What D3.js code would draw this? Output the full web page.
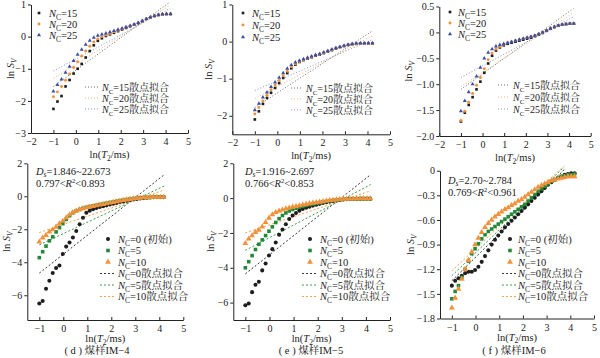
<!DOCTYPE html>
<html><head><meta charset="utf-8">
<script src="https://cdn.jsdelivr.net/npm/d3@7"></script>
<style>
body{margin:0;background:#fff}
text{font-family:"Liberation Serif","Noto Serif CJK SC","Noto Sans CJK SC",serif;fill:#222}
</style>
</head><body>
<svg id="c" width="600" height="358"></svg>
<script>
// ---------- DATA ----------
const xTop = [-1.00,-0.82,-0.64,-0.46,-0.28,-0.10,0.08,0.26,0.44,0.62,0.80,0.98,1.16,1.34,1.52,1.70,1.88,2.06,2.24,2.42,2.60,2.78,2.96,3.14,3.32,3.50,3.68,3.86,4.04,4.22];
const xBot = [-1.00,-0.86,-0.72,-0.58,-0.44,-0.30,-0.16,-0.02,0.12,0.26,0.40,0.54,0.68,0.82,0.96,1.10,1.24,1.38,1.52,1.66,1.80,1.94,2.08,2.22,2.36,2.50,2.64,2.78,2.92,3.06,3.20,3.34,3.48,3.62,3.76,3.90,4.04,4.18];

const topNames = ["15","20","25"];
const botNames = ["0","5","10"];

// (a) sample
const a15 = [-2.25,-2.02,-1.85,-1.55,-1.35,-1.15,-1.00,-0.85,-0.65,-0.45,-0.27,-0.13,-0.05,0.02,0.07,0.12,0.17,0.22,0.27,0.32,0.37,0.42,0.48,0.55,0.60,0.64,0.67,0.69,0.70,0.70];
const a20 = [-1.87,-1.72,-1.55,-1.36,-1.16,-0.96,-0.78,-0.60,-0.45,-0.30,-0.17,-0.07,0.00,0.05,0.10,0.15,0.20,0.24,0.29,0.33,0.38,0.43,0.49,0.55,0.60,0.64,0.67,0.69,0.70,0.70];
const a25 = [-1.70,-1.50,-1.33,-1.12,-0.93,-0.75,-0.56,-0.40,-0.25,-0.12,-0.03,0.03,0.07,0.10,0.14,0.18,0.22,0.26,0.30,0.34,0.38,0.43,0.49,0.55,0.61,0.65,0.68,0.70,0.71,0.71];
const aFitX = [[-1,4.2],[-1,4.2],[-1,4.2]];
const aFitY = [[-1.55,1.08],[-1.30,0.98],[-1.07,0.88]];

// (b) sample
const b15 = [-2.10,-1.88,-1.68,-1.52,-1.38,-1.25,-1.12,-0.98,-0.85,-0.72,-0.62,-0.55,-0.50,-0.46,-0.42,-0.38,-0.35,-0.31,-0.27,-0.23,-0.19,-0.15,-0.12,-0.09,-0.07,-0.06,-0.05,-0.05,-0.05,-0.05];
const b20 = [-1.95,-1.78,-1.60,-1.45,-1.30,-1.17,-1.05,-0.92,-0.80,-0.68,-0.60,-0.54,-0.49,-0.45,-0.41,-0.37,-0.34,-0.30,-0.26,-0.22,-0.18,-0.15,-0.12,-0.09,-0.07,-0.06,-0.05,-0.05,-0.05,-0.05];
const b25 = [-1.85,-1.67,-1.50,-1.37,-1.22,-1.10,-0.97,-0.85,-0.73,-0.63,-0.56,-0.51,-0.47,-0.43,-0.40,-0.36,-0.33,-0.29,-0.25,-0.21,-0.17,-0.14,-0.11,-0.08,-0.06,-0.05,-0.04,-0.04,-0.04,-0.04];
const bFitX = [[-1,4.2],[-1,4.2],[-1,4.2]];
const bFitY = [[-1.78,0.28],[-1.54,0.15],[-1.32,0.05]];

// (c) sample
const c15 = [-1.72,-1.55,-1.40,-1.25,-1.10,-0.95,-0.78,-0.60,-0.45,-0.35,-0.29,-0.25,-0.22,-0.20,-0.18,-0.16,-0.14,-0.12,-0.10,-0.07,-0.04,-0.01,0.03,0.07,0.10,0.13,0.15,0.16,0.17,0.17];
const c20 = [-1.70,-1.52,-1.35,-1.18,-1.02,-0.87,-0.70,-0.53,-0.40,-0.32,-0.27,-0.23,-0.20,-0.18,-0.16,-0.14,-0.12,-0.10,-0.08,-0.06,-0.03,0.00,0.04,0.08,0.11,0.13,0.15,0.16,0.17,0.17];
const c25 = [-1.52,-1.32,-1.15,-1.00,-0.85,-0.68,-0.50,-0.39,-0.32,-0.27,-0.24,-0.22,-0.20,-0.18,-0.16,-0.14,-0.12,-0.10,-0.08,-0.06,-0.03,0.00,0.04,0.08,0.11,0.13,0.15,0.16,0.17,0.17];
const cFitX = [[-1,4.2],[-1,4.2],[-1,4.2]];
const cFitY = [[-1.10,0.46],[-1.05,0.38],[-0.87,0.30]];

// (d) IM-4
const d0  = [-6.50,-6.35,-5.60,-5.12,-4.65,-4.35,-4.20,-3.50,-3.05,-2.80,-2.50,-2.10,-1.70,-1.30,-1.00,-0.87,-0.78,-0.71,-0.65,-0.60,-0.55,-0.50,-0.45,-0.40,-0.35,-0.31,-0.27,-0.23,-0.19,-0.16,-0.13,-0.11,-0.09,-0.07,-0.06,-0.05,-0.05,-0.05];
const d5  = [-3.72,-3.36,-3.02,-2.70,-2.46,-2.16,-1.90,-1.66,-1.40,-1.18,-1.00,-0.88,-0.80,-0.73,-0.67,-0.62,-0.58,-0.54,-0.50,-0.46,-0.42,-0.38,-0.34,-0.30,-0.26,-0.23,-0.20,-0.17,-0.14,-0.12,-0.10,-0.08,-0.07,-0.06,-0.05,-0.05,-0.05,-0.05];
const d10 = [-2.76,-2.52,-2.36,-2.16,-2.02,-1.86,-1.66,-1.50,-1.30,-1.12,-0.98,-0.88,-0.80,-0.74,-0.69,-0.64,-0.60,-0.56,-0.52,-0.48,-0.44,-0.40,-0.36,-0.32,-0.28,-0.24,-0.21,-0.18,-0.15,-0.12,-0.10,-0.08,-0.07,-0.06,-0.05,-0.05,-0.05,-0.05];
const dFitX = [[-1,4.2],[-1,4.2],[-1,4.2]];
const dFitY = [[-4.66,1.30],[-2.95,0.62],[-2.20,0.38]];

// (e) IM-5
const e0  = [-6.15,-6.05,-5.40,-4.98,-4.80,-4.15,-3.75,-3.30,-2.93,-2.55,-2.10,-1.80,-1.50,-1.20,-1.00,-0.85,-0.72,-0.62,-0.55,-0.49,-0.43,-0.38,-0.33,-0.28,-0.24,-0.20,-0.16,-0.13,-0.10,-0.08,-0.06,-0.05,-0.04,-0.04,-0.03,-0.03,-0.03,-0.03];
const e5  = [-4.00,-3.65,-3.30,-2.95,-2.65,-2.40,-2.15,-1.90,-1.65,-1.40,-1.18,-1.00,-0.85,-0.74,-0.65,-0.58,-0.52,-0.47,-0.42,-0.38,-0.34,-0.30,-0.26,-0.22,-0.19,-0.16,-0.13,-0.11,-0.09,-0.07,-0.06,-0.05,-0.04,-0.04,-0.03,-0.03,-0.03,-0.03];
const e10 = [-2.60,-2.34,-2.15,-1.96,-1.83,-1.64,-1.39,-1.14,-0.95,-0.82,-0.74,-0.67,-0.61,-0.56,-0.51,-0.47,-0.43,-0.39,-0.35,-0.31,-0.28,-0.25,-0.22,-0.19,-0.16,-0.13,-0.11,-0.09,-0.07,-0.06,-0.05,-0.04,-0.04,-0.03,-0.03,-0.03,-0.03,-0.03];
const eFitX = [[-1,4.2],[-1,4.2],[-1,4.2]];
const eFitY = [[-4.35,1.35],[-3.00,0.78],[-2.00,0.42]];

// (f) IM-6
const f0  = [-1.40,-1.34,-1.31,-1.28,-1.25,-1.23,-1.23,-1.21,-1.17,-1.11,-1.04,-0.97,-0.90,-0.84,-0.79,-0.74,-0.69,-0.65,-0.61,-0.57,-0.53,-0.49,-0.45,-0.41,-0.37,-0.33,-0.29,-0.25,-0.21,-0.17,-0.14,-0.11,-0.09,-0.07,-0.05,-0.04,-0.03,-0.03];
const f5  = [-1.56,-1.47,-1.40,-1.30,-1.20,-1.10,-1.01,-0.95,-0.89,-0.83,-0.78,-0.74,-0.71,-0.68,-0.65,-0.62,-0.59,-0.56,-0.53,-0.50,-0.47,-0.44,-0.41,-0.37,-0.33,-0.29,-0.25,-0.22,-0.19,-0.16,-0.13,-0.11,-0.09,-0.07,-0.06,-0.05,-0.05,-0.04];
const f10 = [-1.67,-1.55,-1.44,-1.32,-1.20,-1.09,-0.99,-0.90,-0.82,-0.75,-0.69,-0.64,-0.60,-0.56,-0.53,-0.50,-0.47,-0.45,-0.42,-0.40,-0.37,-0.35,-0.32,-0.29,-0.26,-0.23,-0.20,-0.18,-0.16,-0.14,-0.12,-0.11,-0.10,-0.09,-0.08,-0.07,-0.07,-0.07];
const fFitX = [[-1,3.8],[-1,3.75],[-1,3.7]];
const fFitY = [[-1.34,0.03],[-1.28,0.05],[-1.22,0.05]];

const topXTicks = [-2,-1,0,1,2,3,4,5];
const botXTicks = [-1,0,1,2,3,4,5];
const aYTicks = [-3,-2,-1,0,1];
const bYTicks = [-2,-1,0,1];
const cYTicks = [-2.0,-1.5,-1.0,-0.5,0,0.5];
const dYTicks = [-6,-4,-2,0,2];
const eYTicks = [-6,-4,-2,0,2];
const fYTicks = [-1.8,-1.5,-1.2,-0.9,-0.6,-0.3,0];

const dsTexts = ["1.846~22.673","1.916~2.697","2.70~2.784"];
const r2Texts = ["0.797<","0.766<","0.769<"];
const r2Tails = ["<0.893","<0.853","<0.961"];
const captions = ["( d ) 煤样IM−4","( e ) 煤样IM−5","( f ) 煤样IM−6"];

// ---------- DRAW ----------
const svg = d3.select("#c");
const BLACK="#1e1e1e", ORANGE="#f3913a", BLUE="#3a4ea6", GREEN="#23893a";
const topColors=[BLACK,ORANGE,BLUE];
const topFitColors=["#6b6b6b","#f6b27c","#8896d2"];
const botColors=[BLACK,GREEN,ORANGE];
const botFitColors=["#3a3a3a","#3c9e4e","#f5a253"];
const topSym=[d3.symbolSquare,d3.symbolCircle,d3.symbolTriangle];
const topSize=[7,7,7];
const botSym=[d3.symbolCircle,d3.symbolSquare,d3.symbolTriangle];
const botSize=[13,13,15];

function minusFmt(dec){ return d=> d===0?"0":(d<0?"−":"")+Math.abs(d).toFixed(dec); }

function ncText(sel, num, tail, fs){
  sel.append("tspan").attr("font-style","italic").text("N");
  sel.append("tspan").attr("font-size",fs*0.7).attr("dy",3).text("C");
  sel.append("tspan").attr("dy",-3).text("="+num+tail);
}

function panel(cfg){
  const x=d3.scaleLinear().domain(cfg.xd).range(cfg.xr);
  const y=d3.scaleLinear().domain(cfg.yd).range(cfg.yr);
  const g=svg.append("g");
  const xa=g.append("g").attr("transform",`translate(0,${cfg.yr[0]})`)
    .call(d3.axisBottom(x).tickValues(cfg.xt).tickSize(-3).tickSizeOuter(0).tickPadding(5).tickFormat(minusFmt(0)));
  const ya=g.append("g").attr("transform",`translate(${cfg.xr[0]},0)`)
    .call(d3.axisLeft(y).tickValues(cfg.yt).tickSize(3).tickSizeOuter(0).tickPadding(2).tickFormat(minusFmt(cfg.ydec)));
  [xa,ya].forEach(a=>{a.selectAll("text").attr("font-size",10).attr("fill","#222").attr("font-family","Liberation Serif");
    a.selectAll("line,path").attr("stroke","#222");});
  // axis titles
  const xt=g.append("text").attr("x",(cfg.xr[0]+cfg.xr[1])/2).attr("y",cfg.yr[0]+cfg.xtOff).attr("text-anchor","middle").attr("font-size",10.5);
  xt.append("tspan").text("ln(");
  xt.append("tspan").attr("font-style","italic").text("T");
  xt.append("tspan").attr("font-size",7.5).attr("dy",2.5).text("2");
  xt.append("tspan").attr("dy",-2.5).text("/ms)");
  const ycx=cfg.ylx, ycy=(cfg.yr[0]+cfg.yr[1])/2;
  const yt=g.append("text").attr("transform",`translate(${ycx},${ycy}) rotate(-90)`).attr("text-anchor","middle").attr("font-size",10.5);
  yt.append("tspan").text("ln ");
  yt.append("tspan").attr("font-style","italic").text("S");
  yt.append("tspan").attr("font-style","italic").attr("font-size",7.5).attr("dy",2.5).text("V");
  // fit lines
  const line=d3.line().x(d=>x(d[0])).y(d=>y(d[1]));
  cfg.fits.forEach((f,i)=>{
    const pts=[[cfg.fitX[i][0],f[0]],[cfg.fitX[i][1],f[1]]];
    g.append("path").attr("d",line(pts)).attr("fill","none").attr("stroke",cfg.fitColors[i])
      .attr("stroke-width",1).attr("stroke-dasharray",cfg.dash);
  });
  // points
  cfg.series.forEach((s,i)=>{
    const sym=d3.symbol().type(cfg.sym[i]).size(cfg.size[i]);
    g.append("g").selectAll("path").data(s.map((v,k)=>[cfg.xs[k],v])).join("path")
      .attr("transform",d=>`translate(${x(d[0])},${y(d[1])})`).attr("d",sym).attr("fill",cfg.colors[i]);
  });
  return {x,y,g};
}

// Top panels
const topCfg=[
  {xd:[-2,5],xr:[31,188],yd:[-3,1],yr:[133,4.5],yt:aYTicks,ydec:0,series:[a15,a20,a25],fits:aFitY,fitX:aFitX,lx:39,ltx:49,ly:[13,24,35],fx:[85,98],ftx:102,fy:[87,98,109],ylx:14},
  {xd:[-2,5],xr:[232.3,390],yd:[-2.5,1],yr:[134.3,4.5],yt:bYTicks,ydec:0,series:[b15,b20,b25],fits:bFitY,fitX:bFitX,lx:243,ltx:252,ly:[13,25,37],fx:[291,303],ftx:306,fy:[88,99,110],ylx:212},
  {xd:[-2,5],xr:[439.3,590.7],yd:[-2,0.5],yr:[136,6.5],yt:cYTicks,ydec:1,series:[c15,c20,c25],fits:cFitY,fitX:cFitX,lx:450,ltx:458,ly:[12,23,34],fx:[498,510],ftx:513,fy:[85,97,109],ylx:412}
];
topCfg.forEach(c=>{
  Object.assign(c,{xt:topXTicks,xs:xTop,colors:topColors,fitColors:topFitColors,sym:topSym,size:topSize,dash:"1,2",xtOff:25});
  const p=panel(c);
  topNames.forEach((n,i)=>{
    p.g.append("path").attr("transform",`translate(${c.lx},${c.ly[i]})`).attr("d",d3.symbol().type(topSym[i]).size(topSize[i])).attr("fill",topColors[i]);
    const t=p.g.append("text").attr("x",c.ltx).attr("y",c.ly[i]+3.5).attr("font-size",10.5);
    ncText(t,n,"",10.5);
    p.g.append("line").attr("x1",c.fx[0]).attr("x2",c.fx[1]).attr("y1",c.fy[i]).attr("y2",c.fy[i]).attr("stroke",topFitColors[i]).attr("stroke-dasharray","1,2");
    const t2=p.g.append("text").attr("x",c.ftx).attr("y",c.fy[i]+3.5).attr("font-size",10);
    ncText(t2,n,"散点拟合",10);
  });
});

// Bottom panels
const botCfg=[
  {xd:[-1.5,5],xr:[27.3,183.3],yd:[-7.5,2],yr:[320,163.3],yt:dYTicks,ydec:0,series:[d0,d5,d10],fits:dFitY,fitX:dFitX,tx:36,ty:[175,186.5],lx:108,ltx:118,fx:[100,115],ylx:10,cap:97},
  {xd:[-1.5,5],xr:[233.3,390],yd:[-7,2],yr:[320,163.3],yt:eYTicks,ydec:0,series:[e0,e5,e10],fits:eFitY,fitX:eFitX,tx:245,ty:[175,186.5],lx:310,ltx:320,fx:[302,317],ylx:214,cap:311},
  {xd:[-1.5,5],xr:[440,594],yd:[-1.8,0],yr:[318.5,170.7],yt:fYTicks,ydec:1,series:[f0,f5,f10],fits:fFitY,fitX:fFitX,tx:448,ty:[184,195.5],lx:510,ltx:518,fx:[502,516],ylx:414,cap:514}
];
const legRows=[239,250.5,262,273.5,285,296.5];
botCfg.forEach((c,k)=>{
  Object.assign(c,{xt:botXTicks,xs:xBot,colors:botColors,fitColors:botFitColors,sym:botSym,size:botSize,dash:"2,2",xtOff:22});
  const p=panel(c);
  // Ds / R2 text
  const t1=p.g.append("text").attr("x",c.tx).attr("y",c.ty[0]).attr("font-size",10.5);
  t1.append("tspan").attr("font-style","italic").text("D");
  t1.append("tspan").attr("font-style","italic").attr("font-size",7.5).attr("dy",2).text("s");
  t1.append("tspan").attr("dy",-2).text("="+dsTexts[k]);
  const t2=p.g.append("text").attr("x",c.tx).attr("y",c.ty[1]).attr("font-size",10.5);
  t2.append("tspan").text(r2Texts[k]);
  t2.append("tspan").attr("font-style","italic").text("R");
  t2.append("tspan").attr("font-size",6.5).attr("dy",-3.5).text("2");
  t2.append("tspan").attr("dy",3.5).text(r2Tails[k]);
  // legend
  botNames.forEach((n,i)=>{
    p.g.append("path").attr("transform",`translate(${c.lx},${legRows[i]})`).attr("d",d3.symbol().type(botSym[i]).size(botSize[i])).attr("fill",botColors[i]);
    const t=p.g.append("text").attr("x",c.ltx).attr("y",legRows[i]+3.5).attr("font-size",10.5);
    ncText(t,n,i===0?" (初始)":"",10.5);
    p.g.append("line").attr("x1",c.fx[0]).attr("x2",c.fx[1]).attr("y1",legRows[i+3]).attr("y2",legRows[i+3]).attr("stroke",botFitColors[i]).attr("stroke-dasharray","2,2");
    const t3=p.g.append("text").attr("x",c.ltx).attr("y",legRows[i+3]+3.5).attr("font-size",10.5);
    ncText(t3,n,"散点拟合",10.5);
  });
  p.g.append("text").attr("x",c.cap).attr("y",354).attr("text-anchor","middle").attr("font-size",10.5).text(captions[k]);
});
</script>
</body></html>
